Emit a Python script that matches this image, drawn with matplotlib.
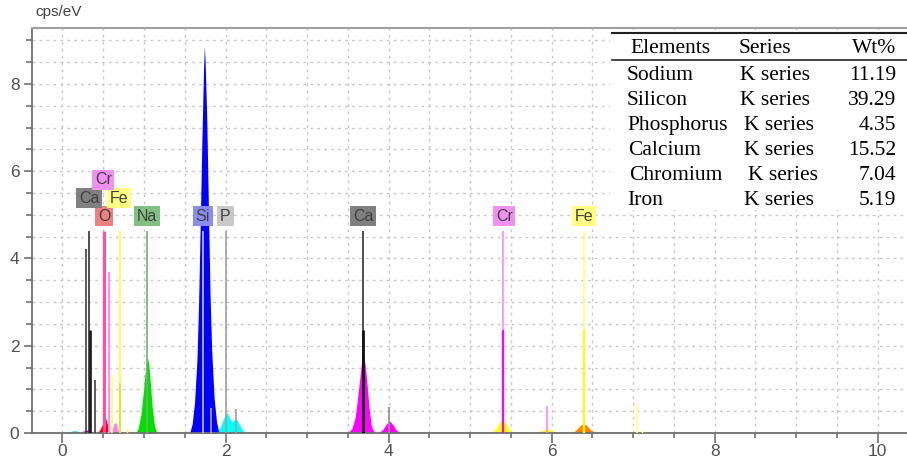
import matplotlib
matplotlib.use('Agg')
import matplotlib.pyplot as plt
from matplotlib.patches import Rectangle
from matplotlib.lines import Line2D
from matplotlib.ticker import MultipleLocator

# spectrum bands: energy (keV) and intensity (cps/eV)
low_cyan_kev = [0.05, 0.09, 0.13, 0.17, 0.21, 0.24]
low_cyan_cps = [0.0, 0.03, 0.05, 0.05, 0.02, 0.0]
low_mag_kev = [0.22, 0.26, 0.30, 0.34, 0.38]
low_mag_cps = [0.0, 0.05, 0.07, 0.04, 0.0]
o_kev = [0.43, 0.46, 0.49, 0.51, 0.53, 0.55, 0.58]
o_cps = [0.0, 0.08, 0.2, 0.3, 0.34, 0.2, 0.0]
crl_kev = [0.60, 0.62, 0.64, 0.66, 0.68, 0.70]
crl_cps = [0.0, 0.15, 0.24, 0.22, 0.08, 0.0]
na_kev = [0.90, 0.93, 0.96, 0.99, 1.01, 1.03, 1.045, 1.06, 1.08, 1.10, 1.13, 1.16]
na_cps = [0.0, 0.12, 0.4, 0.9, 1.3, 1.62, 1.72, 1.55, 1.1, 0.6, 0.15, 0.0]
si_kev = [1.56, 1.59, 1.62, 1.65, 1.67, 1.69, 1.71, 1.73, 1.74, 1.75, 1.77, 1.79, 1.81,
          1.83, 1.86, 1.89, 1.92]
si_cps = [0.0, 0.2, 0.7, 1.7, 3.0, 4.8, 6.7, 8.3, 8.87, 8.5, 7.2, 5.2, 3.2,
          1.9, 0.8, 0.25, 0.0]
p_kev = [1.90, 1.95, 1.99, 2.02, 2.05, 2.08, 2.11, 2.14, 2.17, 2.21, 2.25]
p_cps = [0.0, 0.2, 0.4, 0.46, 0.35, 0.26, 0.3, 0.31, 0.2, 0.06, 0.0]
caka_kev = [3.50, 3.55, 3.59, 3.62, 3.65, 3.67, 3.69, 3.71, 3.73, 3.76, 3.79, 3.83]
caka_cps = [0.0, 0.1, 0.35, 0.8, 1.3, 1.65, 1.8, 1.6, 1.25, 0.6, 0.15, 0.0]
cakb_kev = [3.87, 3.93, 3.97, 4.01, 4.05, 4.09, 4.14]
cakb_cps = [0.0, 0.08, 0.2, 0.28, 0.2, 0.08, 0.0]
crka_kev = [5.27, 5.32, 5.36, 5.40, 5.44, 5.48, 5.53]
crka_cps = [0.0, 0.1, 0.24, 0.31, 0.22, 0.08, 0.0]
crkb_kev = [5.82, 5.87, 5.91, 5.94, 5.98, 6.02, 6.07]
crkb_cps = [0.0, 0.04, 0.08, 0.1, 0.08, 0.03, 0.0]
feka_kev = [6.25, 6.30, 6.35, 6.39, 6.43, 6.48, 6.55]
feka_cps = [0.0, 0.07, 0.17, 0.22, 0.17, 0.07, 0.0]

# element marker lines
line_kev = [0.288, 0.33, 0.34, 0.40, 0.51, 0.57, 0.61, 0.705, 0.705, 0.79,
            1.04, 1.72, 1.82, 2.01, 2.13, 3.69, 3.69, 4.01,
            5.41, 5.41, 5.94, 6.40, 6.40, 7.045, 7.106]
line_cps = [4.22, 4.62, 2.35, 1.21, 4.62, 3.69, 1.33, 4.62, 1.15, 0.1,
            4.62, 4.62, 0.58, 4.62, 0.55, 4.62, 2.35, 0.6,
            4.62, 2.35, 0.62, 4.62, 2.35, 0.66, 0.1]
line_colors = ['#404040', '#303030', '#202020', '#404040', '#ff4fa0', '#ff88ff', '#ffff50',
               '#ffff50', '#e8e000', '#ffff50',
               '#70b070', '#a8a8ff', '#a8a8ff', '#a0a0a0', '#a0a0a0', '#303030', '#101010',
               '#909090', '#ff88ff', '#ff00ff', '#ff88ff', '#ffff70', '#ffff00', '#ffff90',
               '#ffff90']
line_widths = [1.2, 1.2, 2.0, 1.2, 2.2, 1.4, 1.2, 1.4, 1.2, 1.0,
               1.2, 1.4, 1.2, 1.2, 1.2, 1.2, 2.0, 1.2,
               1.2, 1.6, 1.2, 1.2, 1.6, 1.2, 1.0]

# element tags: symbol, energy, stacking row
tag_text = ['O', 'Na', 'Si', 'P', 'Ca', 'Cr', 'Fe', 'Ca', 'Fe', 'Cr']
tag_kev = [0.51, 1.04, 1.72, 2.0, 3.69, 5.42, 6.40, 0.33, 0.69, 0.50]
tag_row = [0, 0, 0, 0, 0, 0, 0, 1, 1, 2]
tag_colors = {'O': '#f08080', 'Na': '#80c080', 'Si': '#8c8cf0', 'P': '#c8c8c8',
              'Ca': '#808080', 'Cr': '#f090f0', 'Fe': '#ffff80'}

# quantification table
table_elements = ['Sodium', 'Silicon', 'Phosphorus', 'Calcium', 'Chromium', 'Iron']
table_series = ['K series'] * 6
table_wt = ['11.19', '39.29', '4.35', '15.52', '7.04', '5.19']

W, H = 907, 459
fig = plt.figure(figsize=(W / 100, H / 100), dpi=100)
ax = fig.add_axes([32 / W, 26 / H, 875 / W, 405 / H])

bands = [
    (low_cyan_kev, low_cyan_cps, '#00e0e0'),
    (low_mag_kev, low_mag_cps, '#e000e0'),
    (o_kev, o_cps, '#ff0000'),
    (crl_kev, crl_cps, '#ff80ff'),
    (na_kev, na_cps, '#00e000'),
    (si_kev, si_cps, '#0000ff'),
    (p_kev, p_cps, '#00ffff'),
    (caka_kev, caka_cps, '#ff00ff'),
    (cakb_kev, cakb_cps, '#ff00ff'),
    (crka_kev, crka_cps, '#ffff00'),
    (crkb_kev, crkb_cps, '#ffff00'),
    (feka_kev, feka_cps, '#ff7f00'),
]
for kev, cps, c in bands:
    ax.fill_between(kev, 0, cps, color=c, lw=0, zorder=2)

ax.vlines(line_kev, 0, line_cps, colors=line_colors, linewidths=line_widths, zorder=3)

row_y = [4.97, 5.38, 5.80]
for t, k, r in zip(tag_text, tag_kev, tag_row):
    ax.text(k, row_y[r], t, ha='center', va='center', fontsize=11.5, color='#404040',
            family='Liberation Sans', zorder=4,
            bbox=dict(boxstyle='square,pad=0.17', fc=tag_colors[t], ec='none'))

ax.set_xlim(-0.374, 10.36)
ax.set_ylim(0, 9.28)
ax.xaxis.set_major_locator(MultipleLocator(2))
ax.xaxis.set_minor_locator(MultipleLocator(0.5))
ax.yaxis.set_major_locator(MultipleLocator(2))
ax.yaxis.set_minor_locator(MultipleLocator(0.5))
ax.grid(which='both', color='#c8c8c8', linestyle=(0, (2, 3)), linewidth=1, zorder=0)
ax.set_axisbelow(True)

ax.spines['right'].set_visible(False)
for s in ['left', 'bottom']:
    ax.spines[s].set_color('#707070')
    ax.spines[s].set_linewidth(1.3)
ax.spines['top'].set_color('#a0a0a0')
ax.spines['top'].set_linewidth(1.5)

ax.tick_params(axis='x', which='major', length=7, width=1.2, color='#707070', pad=1,
               labelsize=12.5, labelcolor='#505050')
ax.tick_params(axis='x', which='minor', length=3.6, width=1.2, color='#707070')
ax.tick_params(axis='y', which='major', length=6, width=1.2, color='#707070', pad=3,
               labelsize=12.5, labelcolor='#505050')
ax.tick_params(axis='y', which='minor', length=4, width=1.2, color='#707070')
for lab in ax.get_xticklabels() + ax.get_yticklabels():
    lab.set_family('Liberation Sans')

fig.text(35 / W, 1 - 12 / H, 'cps/eV', fontsize=11, color='#404040', va='center',
         family='Liberation Sans')

# table overlay in the upper right
fig.add_artist(Rectangle((610 / W, 1 - 210 / H), (W - 610) / W, 180 / H,
                         transform=fig.transFigure, fc='white', ec='none', zorder=5))
fig.add_artist(Line2D([612 / W, 1], [1 - 33 / H] * 2, transform=fig.transFigure,
                      color='#202020', lw=1.5, zorder=6))
fig.add_artist(Line2D([612 / W, 1], [1 - 59.5 / H] * 2, transform=fig.transFigure,
                      color='#202020', lw=1.2, zorder=6))

tfont = dict(family='Liberation Serif', fontsize=15.5, color='black', va='baseline', zorder=7)
fig.text(630 / W, 1 - 53 / H, 'Elements', **tfont)
fig.text(739 / W, 1 - 53 / H, 'Series', **tfont)
fig.text(896 / W, 1 - 53 / H, 'Wt%', ha='right', **tfont)

name_x = [627, 627, 627, 628, 629, 627]
series_x = [740, 740, 744, 744, 748, 744]
for i, (el, se, wt) in enumerate(zip(table_elements, table_series, table_wt)):
    yb = 1 - (80 + 25 * i) / H
    fig.text(name_x[i] / W, yb, el, **tfont)
    fig.text(series_x[i] / W, yb, se, **tfont)
    fig.text(896 / W, yb, wt, ha='right', **tfont)

fig.savefig('out.png', dpi=100)
